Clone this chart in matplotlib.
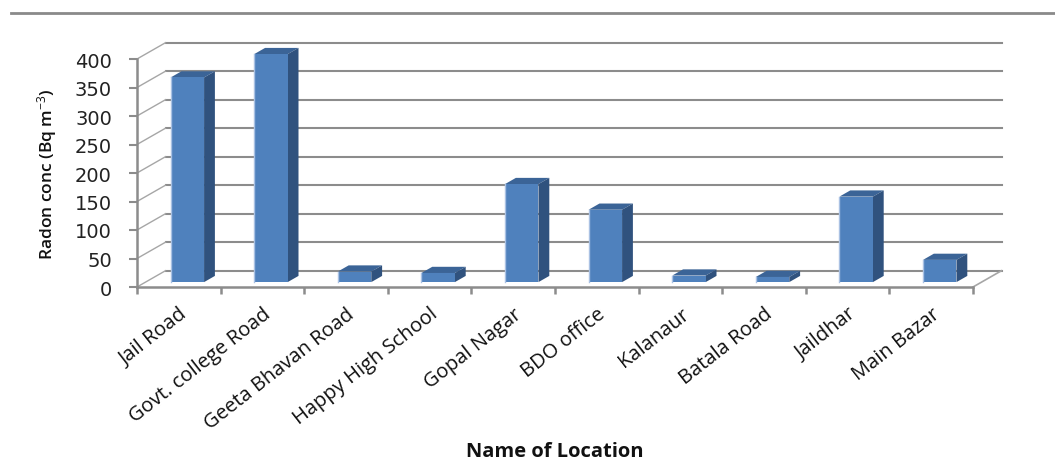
import numpy as np
import matplotlib
matplotlib.use("Agg")
import matplotlib.pyplot as plt
from matplotlib.patches import Polygon
from matplotlib.lines import Line2D
from matplotlib.transforms import IdentityTransform, ScaledTranslation

# ---- data ----
locations = ["Jail Road", "Govt. college Road", "Geeta Bhavan Road", "Happy High School",
             "Gopal Nagar", "BDO office", "Kalanaur", "Batala Road", "Jaildhar", "Main Bazar"]
radon = [359, 400, 18.5, 16, 172, 127, 11.5, 9, 150, 39]
yticks = [0, 50, 100, 150, 200, 250, 300, 350, 400]

plt.rcParams['mathtext.fontset'] = 'custom'
plt.rcParams['mathtext.rm'] = 'Open Sans'
plt.rcParams['mathtext.it'] = 'Open Sans'

W, H = 1055, 464
fig = plt.figure(figsize=(W / 100, H / 100), dpi=100)
fig.patch.set_facecolor('white')

# front plane in pixels: x 137..973, y(0)=288, y(400)=60 (from top)
L, R, T, B = 137, 973, 60, 288
ax = fig.add_axes([L / W, 1 - B / H, (R - L) / W, (B - T) / H])
ax.set_xlim(-0.5, len(locations) - 0.5)
ax.set_ylim(0, 400)
ax.patch.set_alpha(0)

DX, DY = 28.5, 16.3   # depth offset in pixels (display: right, up)
GRID = '#8c8c8c'

def P(x, y, f):
    p = ax.transData.transform((x, y))
    return (p[0] + f * DX, p[1] + f * DY)

def off(f):
    return ScaledTranslation(f * DX / 100, f * DY / 100, fig.dpi_scale_trans)

n = len(locations)
idx = np.arange(n)

# back wall gridlines
for v in yticks:
    ax.plot([-0.5, n - 0.5], [v, v], color=GRID, lw=1.5,
            transform=ax.transData + off(1.0), clip_on=False, zorder=1)
# left side wall diagonals
for v in yticks:
    a, b = P(-0.5, v, 0), P(-0.5, v, 1)
    ax.add_line(Line2D([a[0], b[0]], [a[1], b[1]], color='#a6a6a6', lw=1.0,
                       transform=IdentityTransform(), zorder=1, clip_on=False))
# floor right edge
a, b = P(n - 0.5, 0, 0), P(n - 0.5, 0, 1)
ax.add_line(Line2D([a[0], b[0]], [a[1], b[1]], color='#a6a6a6', lw=1.2,
                   transform=IdentityTransform(), zorder=1, clip_on=False))

# bars
bw = 0.4
f1, f2 = 0.30, 0.68
FRONT, TOP, SIDE = '#4f81bd', '#3b6497', '#30527e'
ax.bar(idx, radon, width=bw, color=FRONT, transform=ax.transData + off(f1),
       clip_on=False, zorder=4, linewidth=0)
for x, v in zip(idx, radon):
    top = [P(x - bw / 2, v, f1), P(x + bw / 2, v, f1), P(x + bw / 2, v, f2), P(x - bw / 2, v, f2)]
    side = [P(x + bw / 2, 0, f1), P(x + bw / 2, v, f1), P(x + bw / 2, v, f2), P(x + bw / 2, 0, f2)]
    ax.add_patch(Polygon(top, closed=True, facecolor=TOP, edgecolor='none',
                         transform=IdentityTransform(), zorder=3, clip_on=False))
    ax.add_patch(Polygon(side, closed=True, facecolor=SIDE, edgecolor='none',
                         transform=IdentityTransform(), zorder=3, clip_on=False))
    a, b = P(x - bw / 2, 0, f1), P(x - bw / 2, v, f1)
    ax.add_line(Line2D([a[0], b[0]], [a[1], b[1]], color='#a9c1e3', lw=1.0,
                       transform=IdentityTransform(), zorder=5, clip_on=False))

# axes / spines
for s in ['top', 'right']:
    ax.spines[s].set_visible(False)
for s in ['left', 'bottom']:
    ax.spines[s].set_color(GRID)
    ax.spines[s].set_linewidth(1.8)
    ax.spines[s].set_zorder(6)

ax.set_yticks(yticks)
ax.set_yticklabels([str(v) for v in yticks], fontfamily='DejaVu Sans', fontsize=14, color='#222222')
ax.tick_params(axis='y', length=6, width=1.5, color=GRID, pad=12)

ax.set_xticks(idx)
ax.set_xticklabels(locations, rotation=38, ha='right', rotation_mode='anchor',
                   fontfamily='Open Sans', fontsize=14.5, color='#111111')
ax.tick_params(axis='x', which='major', length=0, pad=12)
ax.set_xticks(np.arange(-0.5, n, 1.0), minor=True)
ax.tick_params(axis='x', which='minor', length=5, width=1.8, color=GRID)

fig.text(47 / W, 1 - 174 / H, r'Radon conc (Bq m$^{-3}$)', rotation=90, ha='center', va='center',
         fontfamily='Open Sans', fontweight='semibold', fontsize=12.5, color='#111111')
fig.text(555 / W, 1 - 452 / H, 'Name of Location', ha='center', va='center',
         fontfamily='Open Sans', fontweight='bold', fontsize=14.5, color='#111111')

# top border line
fig.add_artist(Line2D([11 / W, 1.0], [1 - 14 / H, 1 - 14 / H], color='#8a8a8a', lw=2.0))

fig.savefig('out.png', dpi=100, facecolor='white')
